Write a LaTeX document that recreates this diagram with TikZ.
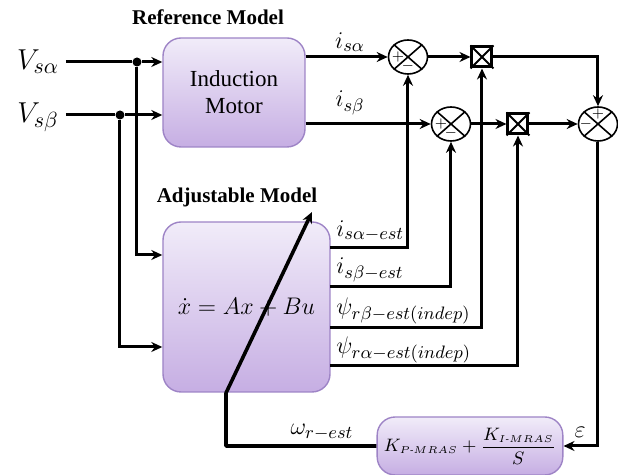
\documentclass[tikz,border=0pt]{standalone}
\usepackage{amsmath}
\usepackage{fontspec}
\setmainfont{Liberation Serif}
\usetikzlibrary{arrows}
\usetikzlibrary{arrows.meta}
\usetikzlibrary{positioning}
\usetikzlibrary{shapes.geometric}

\definecolor{boxtop}{HTML}{F1ECF9}
\definecolor{boxbot}{HTML}{C6AEE3}
\definecolor{boxline}{HTML}{9E84C6}

\tikzset{
  block/.style={draw=boxline, line width=0.7pt, rounded corners=9pt, top color=boxtop, bottom color=boxbot, align=center},
  sumnode/.style={draw, line width=0.8pt, ellipse, minimum width=19.5pt, minimum height=17pt, inner sep=0pt},
  multnode/.style={draw, line width=1.5pt, minimum size=10pt, inner sep=0pt},
  sig/.style={line width=1.5pt},
  arr/.style={-{Stealth[length=5.5pt, width=5pt]}},
  dot/.style={circle, fill, inner sep=0pt, minimum size=4.5pt},
  sgn/.style={font=\fontsize{7}{8}\selectfont, inner sep=0pt},
  lbl/.style={font=\fontsize{13}{15}\selectfont, inner sep=1pt},
}

\begin{document}
\begin{tikzpicture}[x=0.5pt, y=-0.5pt]
  \useasboundingbox (0,0) rectangle (618,475);

  % models
  \node[font=\bfseries\fontsize{10.5}{12}\selectfont] (reftitle) at (208,17) {Reference Model};
  \node[block, minimum width=71pt, minimum height=54.5pt, font=\fontsize{11.5}{13.5}\selectfont] (im) at (234,92.5) {Induction\\Motor};
  \node[font=\bfseries\fontsize{10.5}{12}\selectfont] (adjtitle) at (237,197) {Adjustable Model};
  \node[block, minimum width=83.5pt, minimum height=85pt, font=\fontsize{12}{14}\selectfont] (am) at (246.5,307)
    {$\dot{x} = Ax + Bu$};
  \node[block, minimum width=75.5pt, minimum height=29pt, font=\fontsize{9}{11}\selectfont] (pi) at (470,446)
    {$K_{\scriptscriptstyle P\text{-}MRAS}+\dfrac{K_{\scriptscriptstyle I\text{-}MRAS}}{S}$};

  % summing points and multipliers
  \node[sumnode] (s1) at (408,57) {};
  \node[sumnode] (s2) at (451,124) {};
  \node[sumnode] (s3) at (598,124) {};
  \foreach \s in {s1,s2,s3}{
    \draw[line width=0.8pt] (\s.north west) -- (\s.south east) (\s.north east) -- (\s.south west);
  }
  \node[sgn] (s1p) at ([xshift=-5pt]s1.center) {$+$};
  \node[sgn] (s1m) at ([yshift=-4.5pt]s1.center) {$-$};
  \node[sgn] (s2p) at ([xshift=-5pt]s2.center) {$+$};
  \node[sgn] (s2m) at ([yshift=-4.5pt]s2.center) {$-$};
  \node[sgn] (s3p) at ([yshift=5pt]s3.center) {$+$};
  \node[sgn] (s3m) at ([xshift=-6pt]s3.center) {$-$};

  \node[multnode] (m1) at (482,57) {};
  \node[multnode] (m2) at (518,124) {};
  \foreach \m in {m1,m2}{
    \draw[line width=1pt] (\m.north west) -- (\m.south east) (\m.north east) -- (\m.south west);
  }

  % inputs
  \node[font=\fontsize{15}{17}\selectfont] (vsa) at (38,62) {$V_{s\alpha}$};
  \node[font=\fontsize{15}{17}\selectfont] (vsb) at (38,117) {$V_{s\beta}$};
  \coordinate (va) at (66,62);
  \coordinate (vb) at (66,115);
  \node[dot] (da) at (137,62) {};
  \node[dot] (db) at (120,115) {};
  \draw[sig, arr] (va) -- (da) -- (im.west |- da);
  \draw[sig, arr] (vb) -- (db) -- (im.west |- db);
  \draw[sig, arr] (da) |- ([yshift=26pt]am.west);
  \draw[sig, arr] (db) |- ([yshift=-20pt]am.west);

  % measured currents
  \draw[sig, arr] (im.east |- s1) -- (s1);
  \draw[sig, arr] (im.east |- s2) -- (s2);
  \node[lbl] (lisa) at (350,42) {$i_{s\alpha}$};
  \node[lbl] (lisb) at (350,103) {$i_{s\beta}$};
  \draw[sig, arr] (s1) -- (m1);
  \draw[sig, arr] (s2) -- (m2);
  \draw[sig, arr] (m1) -| (s3);
  \draw[sig, arr] (m2) -- (s3);

  % estimated quantities
  \coordinate (oia) at (330,248);
  \coordinate (oib) at (330,287);
  \coordinate (opb) at (330,328);
  \coordinate (opa) at (330,366);
  \draw[sig, arr] (oia) -| (s1);
  \draw[sig, arr] (oib) -| (s2);
  \draw[sig, arr] (opb) -| (m1);
  \draw[sig, arr] (opa) -| (m2);
  \node[lbl, anchor=west] (lia) at (334,231) {$i_{s\alpha-est}$};
  \node[lbl, anchor=west] (lib) at (334,270) {$i_{s\beta-est}$};
  \node[lbl, anchor=west] (lpb) at (334,311) {$\psi_{r\beta-est(indep)}$};
  \node[lbl, anchor=west] (lpa) at (334,350) {$\psi_{r\alpha-est(indep)}$};

  % adaptation loop
  \draw[sig, arr] (s3) |- (pi);
  \node[lbl] (leps) at (580,432) {$\varepsilon$};
  \coordinate (wk) at (226,393);
  \coordinate (wt) at (312,212);
  \draw[line width=1.8pt, arr, line join=round] (pi) -| (wk) -- (wt);
  \node[lbl] (lw) at (322,432) {$\omega_{r-est}$};
\end{tikzpicture}
\end{document}
